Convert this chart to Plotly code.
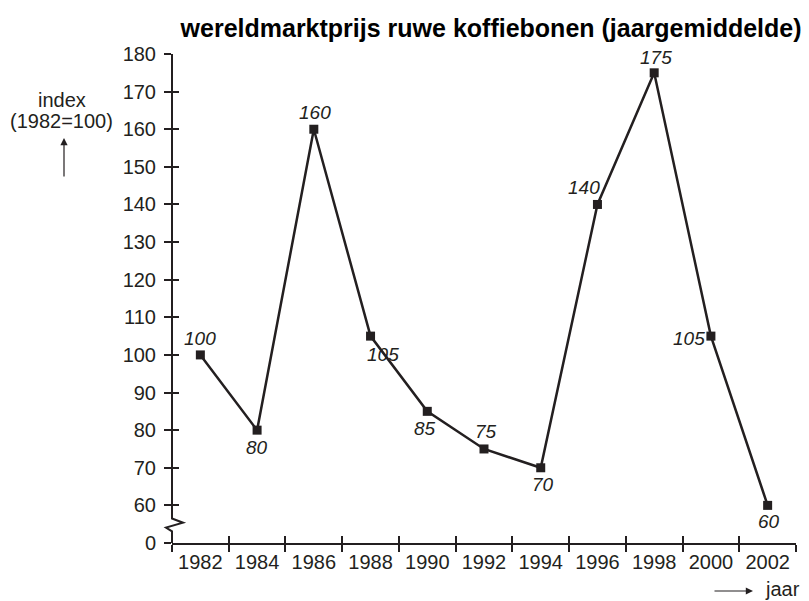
import plotly.graph_objects as go

years = [1982, 1984, 1986, 1988, 1990, 1992, 1994, 1996, 1998, 2000, 2002]
index_vals = [100, 80, 160, 105, 85, 75, 70, 140, 175, 105, 60]
# label offsets from the point, in pixels (style only)
label_dx = [0, 0, 1, 12, -2, 2, 2, -13, 2, -22, 1]
label_dy = [-16, 17, -17, 18, 17, -17, 17, -17, -15, 2, 16]

x_tick_years = [1981, 1983, 1985, 1987, 1989, 1991, 1993, 1995, 1997, 1999, 2001, 2003]
y_tick_vals = [50, 60, 70, 80, 90, 100, 110, 120, 130, 140, 150, 160, 170, 180]
y_tick_text = ["0", "60", "70", "80", "90", "100", "110", "120", "130", "140", "150", "160", "170", "180"]

INK = "#231f20"
FONT = "Liberation Sans, Arial, sans-serif"
NARROW = "Liberation Sans Narrow, Liberation Sans, Arial, sans-serif"

fig = go.Figure()
fig.add_trace(go.Scatter(
    x=years, y=index_vals, mode="lines+markers",
    line=dict(color=INK, width=2.5),
    marker=dict(symbol="square", size=9, color=INK),
    cliponaxis=False, showlegend=False, hoverinfo="skip"))
# invisible trace to realise the overlay axes
fig.add_trace(go.Scatter(x=[years[0]], y=[index_vals[0]], xaxis="x2", yaxis="y2",
                         mode="markers", marker=dict(opacity=0), showlegend=False, hoverinfo="skip"))

for x, v, dx, dy in zip(years, index_vals, label_dx, label_dy):
    fig.add_annotation(x=x, y=v, text=str(v), showarrow=False, xshift=dx, yshift=-dy,
                       xanchor="center", yanchor="middle",
                       font=dict(family=NARROW, size=19, color=INK, style="italic"))

common = dict(showgrid=False, zeroline=False, tickcolor=INK, tickwidth=1.5, linecolor=INK)
fig.update_layout(
    width=809, height=601,
    margin=dict(l=172, r=13, t=54, b=58),
    paper_bgcolor="white", plot_bgcolor="white",
    font=dict(family=FONT, color=INK, size=20),
    title=dict(text="<b>wereldmarktprijs ruwe koffiebonen (jaargemiddelde)</b>",
               x=0.607, xanchor="center", y=0.953, yanchor="middle",
               font=dict(family=FONT, size=25, color="black")),
    xaxis=dict(range=[1981, 2003], tickmode="array", tickvals=years, ticktext=[str(y) for y in years],
               ticks="outside", ticklen=0, showline=True, linewidth=2,
               minor=dict(tickmode="array", tickvals=x_tick_years, ticks="outside", ticklen=7,
                          tickwidth=1.5, tickcolor=INK),
               tickfont=dict(size=20), ticklabelstandoff=0, **common),
    xaxis2=dict(range=[1981, 2003], overlaying="x", anchor="y", side="bottom",
                tickmode="array", tickvals=x_tick_years, ticks="inside", ticklen=7,
                showticklabels=False, showline=False, **common),
    yaxis=dict(range=[50, 180], tickmode="array", tickvals=y_tick_vals, ticktext=y_tick_text,
               ticks="outside", ticklen=7, showline=False, tickfont=dict(size=20),
               ticklabelstandoff=4, **common),
    yaxis2=dict(range=[50, 180], overlaying="y", anchor="x", side="left",
                tickmode="array", tickvals=y_tick_vals, ticks="inside", ticklen=7,
                showticklabels=False, showline=False, **common),
)

# y axis line with break (x in pixel offsets from axis, y in data units)
fig.add_shape(type="path", xref="paper", xsizemode="pixel", xanchor=0, yref="y",
              path="M0,180 L0,56.5 L11,55.4 L-6,54.1 L0,53.1 L0,50",
              line=dict(color=INK, width=2), layer="above")

# left axis caption
fig.add_annotation(text="index", xref="paper", yref="paper", x=(62 - 172) / 624, y=(543 - 100) / 489,
                   showarrow=False, font=dict(size=20), xanchor="center", yanchor="middle")
fig.add_annotation(text="(1982=100)", xref="paper", yref="paper", x=(62 - 172) / 624, y=(543 - 121) / 489,
                   showarrow=False, font=dict(size=20), xanchor="center", yanchor="middle")
fig.add_annotation(text="", xref="paper", yref="paper", x=(64 - 172) / 624, y=(543 - 138) / 489,
                   ax=0, ay=40, showarrow=True, arrowhead=2, arrowsize=1.2, arrowwidth=1.2, arrowcolor=INK)
# right axis caption
fig.add_annotation(text="jaar", xref="paper", yref="paper", x=(763 - 172) / 624, y=(543 - 589) / 489,
                   showarrow=False, font=dict(size=20), xanchor="left", yanchor="middle")
fig.add_annotation(text="", xref="paper", yref="paper", x=(753 - 172) / 624, y=(543 - 591) / 489,
                   ax=-40, ay=0, showarrow=True, arrowhead=2, arrowsize=1.2, arrowwidth=1.2, arrowcolor=INK)

fig.write_html("out.html", config={"displayModeBar": False},
               post_script="document.body.style.margin='0px';document.body.style.overflow='hidden';")
